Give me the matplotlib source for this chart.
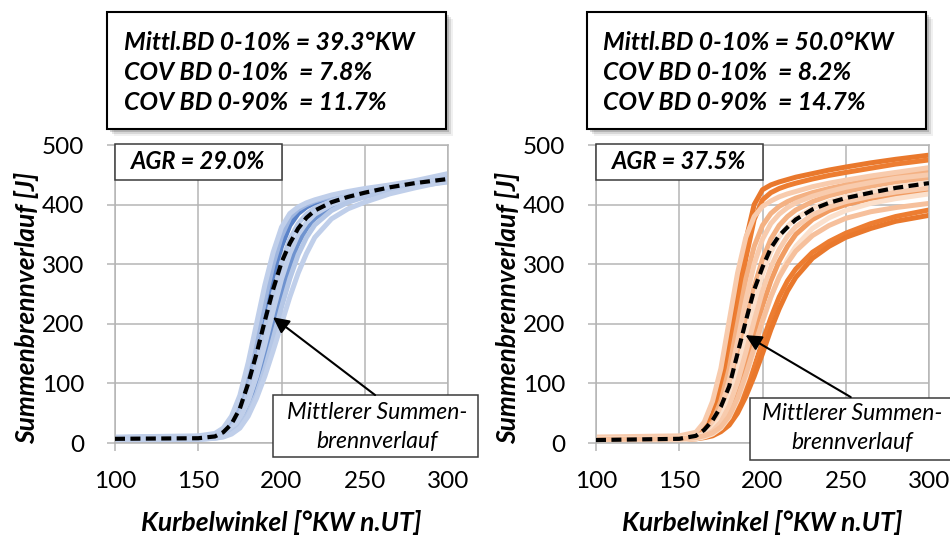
import matplotlib
matplotlib.use("Agg")
import matplotlib.pyplot as plt
from matplotlib.patches import Rectangle

plt.rcParams['font.family'] = ['Lato', 'DejaVu Sans']

# crank angle grid shared by all traces
kw = [100, 150, 160, 165, 170, 175, 180, 185, 190, 195, 200,
      205, 210, 215, 220, 230, 240, 250, 265, 280, 300]

# AGR 29.0 % - single cycles (darker ones first, pale ones drawn over them)
blue_curves = [
    [9, 11, 14, 20, 33, 58, 100, 155, 218, 280, 330, 365, 385, 396, 403, 412, 418, 424, 431, 438, 446],
    [7, 9, 11, 14, 20, 34, 58, 95, 142, 195, 250, 298, 335, 360, 377, 396, 408, 416, 425, 433, 441],
    [8, 10, 13, 20, 36, 65, 112, 172, 240, 300, 347, 378, 392, 400, 406, 414, 420, 425, 432, 439, 448],
    [10, 12, 16, 25, 45, 80, 135, 200, 265, 320, 362, 385, 396, 403, 408, 416, 422, 427, 433, 440, 452],
    [6, 8, 10, 15, 26, 48, 85, 135, 192, 250, 302, 342, 368, 384, 394, 406, 414, 420, 428, 436, 444],
    [7, 8, 10, 13, 22, 40, 70, 112, 165, 222, 275, 318, 350, 370, 384, 400, 410, 417, 426, 434, 442],
    [5, 6, 8, 11, 17, 28, 50, 82, 125, 175, 228, 276, 316, 345, 366, 390, 404, 413, 423, 431, 438],
    [5, 6, 8, 10, 15, 25, 45, 75, 112, 155, 200, 245, 285, 318, 345, 376, 393, 404, 418, 428, 440],
]
blue_colors = ['#5a83c9', '#6f93cf', '#9fb6df', '#c0cfea', '#b9cae8', '#c0cfea', '#b5c7e6', '#c0cfea']
blue_mean = [7, 8, 11, 18, 32, 58, 100, 150, 205, 258, 303, 335, 360, 378, 390, 404, 413, 420, 429, 436, 443]

# AGR 37.5 % - single cycles (darker ones first, pale ones drawn over them)
orange_curves = [
    [8, 10, 15, 25, 48, 95, 170, 260, 340, 400, 425, 433, 438, 442, 446, 452, 458, 463, 470, 476, 483],
    [6, 8, 12, 20, 38, 75, 140, 225, 310, 375, 408, 420, 427, 432, 436, 443, 449, 454, 461, 468, 475],
    [5, 6, 8, 10, 14, 22, 36, 58, 90, 128, 170, 210, 245, 272, 292, 320, 338, 352, 368, 380, 391],
    [4, 5, 7, 9, 12, 19, 30, 50, 78, 112, 150, 190, 225, 255, 278, 310, 330, 345, 360, 372, 382],
    [6, 7, 9, 12, 18, 30, 52, 86, 130, 180, 230, 272, 305, 330, 350, 375, 390, 400, 410, 417, 424],
    [5, 7, 10, 18, 35, 70, 125, 200, 275, 330, 365, 385, 397, 405, 411, 420, 427, 433, 441, 448, 456],
    [5, 7, 10, 15, 26, 48, 88, 145, 205, 262, 308, 342, 365, 380, 391, 405, 415, 422, 431, 438, 445],
    [10, 12, 18, 35, 70, 125, 205, 285, 345, 380, 397, 406, 413, 418, 422, 430, 436, 441, 448, 454, 462],
    [6, 8, 11, 16, 30, 58, 105, 170, 240, 300, 342, 368, 384, 395, 403, 414, 422, 429, 437, 444, 450],
    [7, 8, 10, 14, 23, 42, 75, 122, 178, 235, 283, 320, 346, 364, 377, 394, 405, 413, 422, 430, 437],
    [5, 6, 9, 12, 20, 35, 62, 102, 152, 205, 255, 295, 325, 347, 363, 383, 396, 405, 414, 421, 428],
    [4, 5, 7, 10, 15, 25, 43, 72, 110, 155, 203, 245, 280, 308, 330, 360, 378, 390, 402, 410, 418],
    [6, 7, 9, 12, 17, 27, 45, 75, 115, 160, 205, 245, 278, 302, 322, 348, 365, 377, 388, 395, 402],
]
orange_colors = ['#e9782c', '#ed7d31', '#ed7d31', '#e9782c', '#f19c62', '#f4b183', '#f4b183',
                 '#f8cbad', '#f8cbad', '#fbe0cc', '#f8cbad', '#fbe0cc', '#f6c09c']
orange_mean = [5, 7, 12, 22, 38, 61, 95, 150, 205, 257, 295, 327, 348, 362, 375, 392, 403, 411, 420, 428, 436]

stats_left = ["Mittl.BD 0-10% = 39.3°KW", "COV BD 0-10%  = 7.8%", "COV BD 0-90%  = 11.7%"]
stats_right = ["Mittl.BD 0-10% = 50.0°KW", "COV BD 0-10%  = 8.2%", "COV BD 0-90%  = 14.7%"]
agr_left = "AGR = 29.0%"
agr_right = "AGR = 37.5%"
note_text = "Mittlerer Summen-\nbrennverlauf"

GRID = '#b5b5b5'
W, H = 950, 537

fig = plt.figure(figsize=(9.5, 5.37), dpi=100)


def stats_box(x0_px, x1_px, text_x_px, lines):
    y0 = 1 - 129 / H
    y1 = 1 - 12 / H
    x0 = x0_px / W
    w = (x1_px - x0_px) / W
    h = y1 - y0
    for d, a in ((7, 0.06), (5, 0.10), (3, 0.16)):
        fig.patches.append(Rectangle((x0 + d / W, y0 - d / H), w, h, transform=fig.transFigure,
                                     facecolor='black', alpha=a, lw=0, zorder=1))
    fig.patches.append(Rectangle((x0, y0), w, h, transform=fig.transFigure,
                                 facecolor='white', edgecolor='black', lw=1.5, zorder=2))
    for line, ypx in zip(lines, (42, 72, 103)):
        fig.text(text_x_px / W, 1 - ypx / H, line, fontsize=17.8, fontweight='bold',
                 style='italic', va='center', ha='left', zorder=3)


def panel(left_px, curves, colors, mean, agr, tip, tail, box, text_xy):
    ax = fig.add_axes([left_px / W, 94 / H, 333 / W, 298 / H])
    for ys, c in zip(curves, colors):
        ax.plot(kw, ys, color=c, lw=3.6, solid_capstyle='round', zorder=2)
    ax.plot(kw, mean, color='black', lw=3, linestyle=(0, (2.4, 1.3)), zorder=4)

    ax.set_xlim(100, 300)
    ax.set_ylim(0, 500)
    ax.set_xticks([100, 150, 200, 250, 300])
    ax.set_yticks([0, 100, 200, 300, 400, 500])
    ax.grid(True, color=GRID, lw=1.1, zorder=0)
    ax.set_axisbelow(True)
    for s in ax.spines.values():
        s.set_color(GRID)
        s.set_linewidth(1.1)
    ax.tick_params(axis='both', direction='out', length=6, width=1.1, color=GRID, labelsize=17.5)
    ax.tick_params(axis='y', pad=16)
    ax.tick_params(axis='x', pad=14)

    ax.set_xlabel("Kurbelwinkel [°KW n.UT]", fontsize=19, fontweight='bold', style='italic',
                  va='center')
    ax.set_ylabel("Summenbrennverlauf [J]", fontsize=19, fontweight='bold', style='italic',
                  va='center')
    ax.xaxis.set_label_coords(0.5, -0.268)
    ax.yaxis.set_label_coords(-0.265, 0.455)

    # AGR label in the upper left corner
    ax.add_patch(Rectangle((0, 0.8826), 0.5, 0.1208, transform=ax.transAxes, facecolor='white',
                           edgecolor='#3a3a3a', lw=1.1, zorder=5, clip_on=False))
    ax.text(0.25, 0.943, agr, transform=ax.transAxes, fontsize=17, fontweight='bold',
            style='italic', ha='center', va='center', zorder=6)

    # note box for the mean trace
    bx0, by0, bx1, by1 = box
    ax.add_patch(Rectangle((bx0, by0), bx1 - bx0, by1 - by0, transform=ax.transAxes,
                           facecolor='white', edgecolor='#3a3a3a', lw=1.1, zorder=5, clip_on=False))
    ax.text(text_xy[0], text_xy[1], note_text, transform=ax.transAxes, fontsize=16.5,
            style='italic', ha='center', va='center', multialignment='center',
            linespacing=1.45, zorder=6)
    ax.annotate('', xy=tip, xytext=tail, zorder=7, annotation_clip=False,
                arrowprops=dict(arrowstyle='-|>', color='black', lw=1.5, mutation_scale=24,
                                shrinkA=0, shrinkB=0))
    return ax


stats_box(107, 446, 124, stats_left)
stats_box(587, 926, 603, stats_right)

panel(115, blue_curves, blue_colors, blue_mean, agr_left,
      (194.9, 211), (256.2, 80.5), (0.4745, -0.047, 1.09, 0.161), (0.787, 0.054))
panel(596, orange_curves, orange_colors, orange_mean, agr_right,
      (189.8, 181), (253, 77), (0.4639, -0.057, 1.12, 0.151), (0.768, 0.05))

fig.savefig("out.png", dpi=100)
